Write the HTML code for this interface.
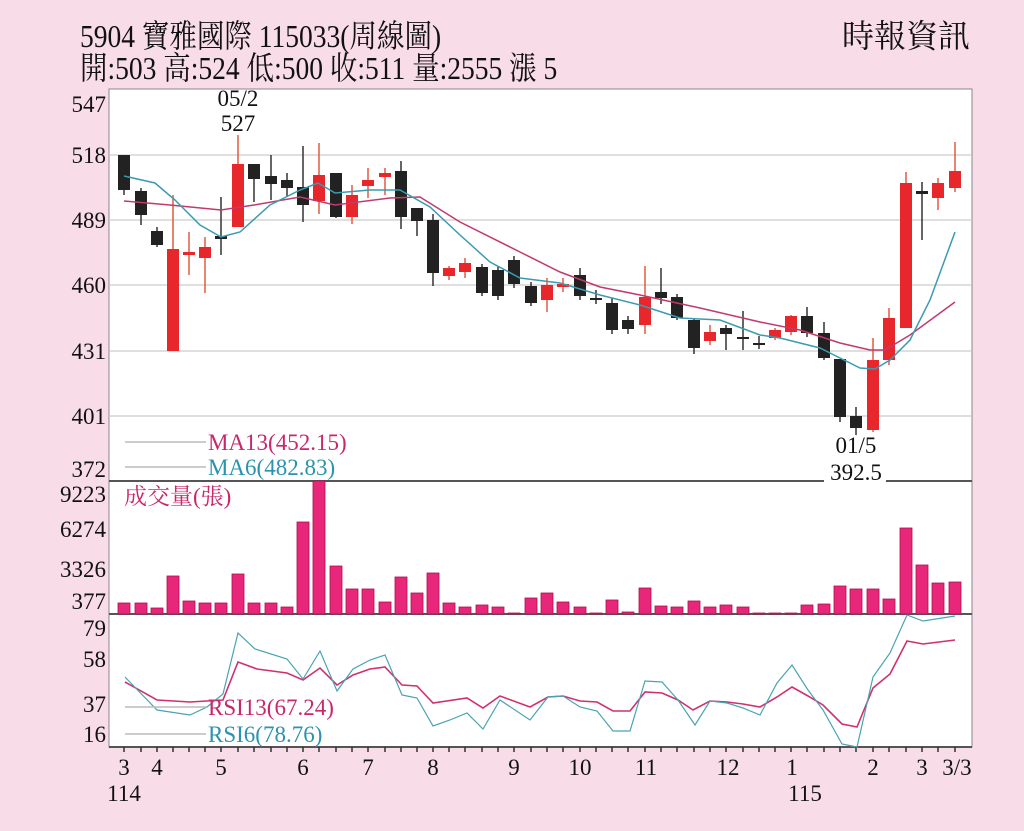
<!DOCTYPE html>
<html><head><meta charset="utf-8"><style>
html,body{margin:0;padding:0;background:#f8dce8;}
svg{display:block;font-family:"Liberation Serif","Noto Serif CJK SC","Noto Sans CJK TC",serif;}
</style></head><body>
<svg width="1024" height="831" viewBox="0 0 1024 831" xmlns="http://www.w3.org/2000/svg">
<rect width="1024" height="831" fill="#f8dce8"/>
<g font-size="32" fill="#111">
<text x="80" y="47" transform="translate(80 0) scale(0.86 1) translate(-80 0)">5904  寶雅國際 115033(周線圖)</text>
<text x="80" y="79" transform="translate(80 0) scale(0.86 1) translate(-80 0)">開:503 高:524 低:500 收:511 量:2555 漲 5</text>
<text x="842" y="47">時報資訊</text>
</g>
<rect x="109" y="89" width="863" height="658" fill="#fff" stroke="#888" stroke-width="1"/>
<g stroke="#ccc" stroke-width="1.2">
<line x1="110" x2="971" y1="155" y2="155"/><line x1="110" x2="971" y1="220" y2="220"/>
<line x1="110" x2="971" y1="285" y2="285"/><line x1="110" x2="971" y1="351" y2="351"/>
<line x1="110" x2="971" y1="416" y2="416"/>
</g>
<line x1="109" x2="972" y1="481" y2="481" stroke="#555" stroke-width="2"/>
<line x1="109" x2="972" y1="614" y2="614" stroke="#555" stroke-width="2"/>
<line x1="109" x2="972" y1="747" y2="747" stroke="#555" stroke-width="2"/>
<g font-size="23" fill="#111" text-anchor="end">
<text x="106" y="112">547</text><text x="106" y="163">518</text><text x="106" y="228">489</text>
<text x="106" y="293">460</text><text x="106" y="359">431</text><text x="106" y="424">401</text>
<text x="106" y="477">372</text>
<text x="106" y="502">9223</text><text x="106" y="537">6274</text><text x="106" y="577">3326</text><text x="106" y="609">377</text>
<text x="106" y="636">79</text><text x="106" y="667">58</text><text x="106" y="712">37</text><text x="106" y="742">16</text>
</g>
<g id="candles" stroke-width="1.5">
<!-- x, bodyTop, bodyBot, wickTop, wickBot -->
</g>
<script>
var C=[[124,155,190,155,195,0],[141,191,215,188,225,0],[157,231,245,227,247,0],[173,249,351,195,351,1],[189,252,255,232,275,1],[205,247,258,237,293,1],[221,236,239,197,255,0],[238,164,227,135,227,1],[254,164,179,164,202,0],[271,176,184,155,200,0],[287,180,188,173,196,0],[303,187,205,146,222,0],[319,175,201,143,214,1],[336,173,217,173,218,0],[352,195,217,185,224,1],[368,180,186,168,198,1],[385,173,177,168,195,1],[401,171,217,161,229,0],[417,208,221,208,236,0],[433,220,273,214,286,0],[449,268,276,266,280,1],[465,263,272,258,278,1],[482,267,293,264,296,0],[498,270,296,266,300,0],[514,260,284,256,288,0],[531,286,303,282,306,0],[547,285,300,278,312,1],[563,284,287,278,292,1],[580,275,296,268,300,0],[596,298,300,290,304,0],[612,303,330,298,334,0],[628,320,329,316,334,0],[645,297,325,266,334,1],[661,292,298,268,304,0],[677,297,318,294,320,0],[694,320,348,318,354,0],[710,332,341,325,345,1],[726,328,334,325,350,0],[743,337,339,311,350,0],[759,343,345,336,349,0],[775,330,338,328,340,1],[791,316,332,315,335,1],[807,316,333,307,337,0],[824,333,358,322,360,0],[840,359,417,359,422,0],[856,416,428,407,435,0],[873,360,430,338,432,1],[889,318,360,308,365,1],[906,183,328,172,328,1],[922,191,194,182,240,0],[938,183,198,178,210,1],[955,171,188,142,192,1]];
var V=[603,603,608,576,601,603,603,574,603,603,607,522,481,566,589,589,602,577,593,573,603,607,605,607,613,598,593,602,607,613,600,612,588,606,607,601,607,605,607,613,613,613,605,604,586,589,589,599,528,565,583,582];
var ns="http://www.w3.org/2000/svg",g=document.getElementById("candles");
function el(t,a){var e=document.createElementNS(ns,t);for(var k in a)e.setAttribute(k,a[k]);g.appendChild(e);}
C.forEach(function(c,i){var col=c[5]?"#e8272c":"#222";
el("line",{x1:c[0],x2:c[0],y1:c[3],y2:c[4],stroke:c[5]?"#e05a40":"#333"});
el("rect",{x:c[0]-6,y:c[1],width:12,height:Math.max(2,c[2]-c[1]),fill:col});
var v=V[i];el("rect",{x:c[0]-6,y:v,width:12,height:614-v,fill:"#e8267a",stroke:"#b0104f","stroke-width":0.8});
el("line",{x1:c[0],x2:c[0],y1:747,y2:752,stroke:"#333"});
});
</script>
<polyline fill="none" stroke="#c03a6e" stroke-width="1.5" points="124,201 170,205 221,210 254,205 300,197 335,205 390,198 420,197 460,222 520,252 560,272 600,287 640,295 700,308 760,322 800,330 840,343 870,350 885,350 910,335 955,302"/>
<polyline fill="none" stroke="#3a9bb0" stroke-width="1.5" points="124,176 155,183 175,200 200,225 221,237 240,232 270,205 300,190 318,183 335,193 370,190 400,190 430,207 460,235 490,262 520,278 560,283 600,295 640,305 680,318 720,320 760,335 780,338 820,348 840,358 860,368 875,369 890,360 910,340 930,300 955,232"/>
<polyline fill="none" stroke="#d0306e" stroke-width="1.6" points="125,682 157,700 190,702 223,700 238,662 257,669 287,673 303,680 320,668 337,685 353,675 370,669 385,667 402,685 417,686 433,703 467,698 483,708 500,696 530,707 548,697 563,696 580,701 597,702 613,711 630,711 645,692 662,693 678,700 693,710 710,701 727,702 743,704 760,707 777,697 792,687 808,696 823,705 842,724 857,727 873,688 890,674 907,641 923,644 955,640"/>
<polyline fill="none" stroke="#4aa3b3" stroke-width="1.2" points="125,677 157,710 190,715 207,707 223,694 238,633 255,649 287,659 303,679 320,651 337,691 353,669 370,660 385,655 402,695 417,698 433,726 450,720 467,713 483,729 500,700 530,720 548,697 563,696 580,707 597,711 613,731 630,731 645,681 662,682 678,700 695,725 710,701 727,703 743,708 760,715 777,683 792,665 808,690 823,710 842,744 857,747 873,677 890,653 907,615 923,621 955,616"/>
<g stroke="#bbb" stroke-width="1.5">
<line x1="125" x2="206" y1="442" y2="442"/><line x1="125" x2="206" y1="467" y2="467"/>
<line x1="125" x2="206" y1="707" y2="707"/><line x1="125" x2="206" y1="734" y2="734"/>
</g>
<g font-size="23">
<text x="208" y="450" fill="#c8286a">MA13(452.15)</text>
<text x="208" y="475" fill="#2b93ad">MA6(482.83)</text>
<text x="208" y="715" fill="#c8286a">RSI13(67.24)</text>
<text x="208" y="742" fill="#2b93ad">RSI6(78.76)</text>
<text x="124" y="504" fill="#c8286a">成交量(張)</text>
</g>
<g font-size="23" fill="#111" text-anchor="middle">
<rect x="824" y="462" width="62" height="26" fill="#fff"/>
<text x="238" y="106">05/2</text><text x="238" y="131">527</text>
<text x="856" y="453">01/5</text><text x="856" y="480">392.5</text>
<text x="124" y="775">3</text><text x="157" y="775">4</text><text x="221" y="775">5</text>
<text x="303" y="775">6</text><text x="368" y="775">7</text><text x="433" y="775">8</text>
<text x="514" y="775">9</text><text x="580" y="775">10</text><text x="646" y="775">11</text>
<text x="728" y="775">12</text><text x="792" y="775">1</text><text x="873" y="775">2</text>
<text x="922" y="775">3</text><text x="957" y="775">3/3</text>
<text x="124" y="801">114</text><text x="805" y="801">115</text>
</g>
</svg>
</body></html>
